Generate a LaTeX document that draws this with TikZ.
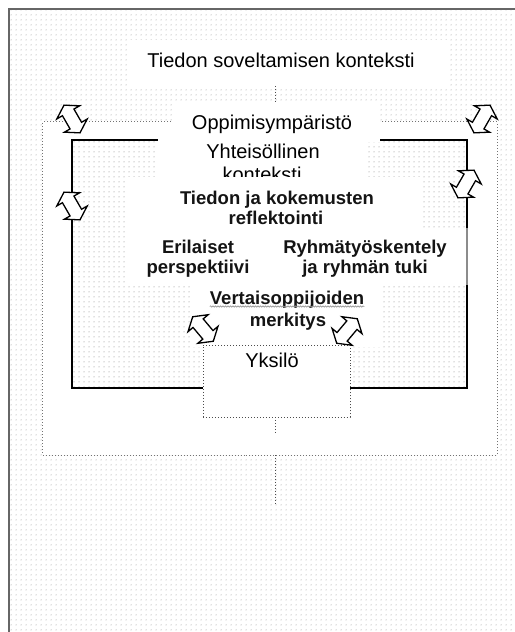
\documentclass[tikz,border=0pt]{standalone}
\usepackage{fontspec}
\setmainfont{Liberation Sans}
\usetikzlibrary{patterns,shapes.arrows,decorations.pathmorphing}
\pgfdeclarepatternformonly{bgdots}{\pgfpointorigin}{\pgfqpoint{4.5bp}{4.5bp}}{\pgfqpoint{4.5bp}{4.5bp}}{%
  \pgfpathcircle{\pgfqpoint{2.25bp}{2.25bp}}{0.55bp}\pgfusepath{fill}}
\begin{document}
\begin{tikzpicture}[x=1bp,y=-1bp,
  dotfill/.style={pattern=bgdots, pattern color=black!50},
  whitebox/.style={rectangle, fill=white, draw=none, inner sep=0pt, outer sep=0pt},
  regtxt/.style={inner sep=0pt, anchor=base, text=black, font=\fontsize{20bp}{24bp}\selectfont},
  boldtxt/.style={inner sep=0pt, anchor=base, text=black!92, font=\fontsize{18.5bp}{22bp}\selectfont\bfseries},
  dblarrow/.style={double arrow, draw=black, fill=white, line width=1.3bp,
    inner xsep=0pt, inner ysep=6bp, minimum height=32bp,
    double arrow head extend=6.5bp, double arrow tip angle=115},
  conn/.style={black!70, line width=1bp, dotted},
]
\useasboundingbox (0,0) rectangle (515,632);
% background
\fill[white] (0,0) rectangle (515,632);
\fill[dotfill] (9,9) rectangle (516,633);
\draw[black!60, line width=2bp] (9,632) -- (9,9) -- (515,9);

% title box
\node[whitebox, minimum width=320bp, minimum height=46bp] (title) at (290,63) {};
% learning environment box
\node[whitebox, draw=black!55, dotted, line width=1bp, minimum width=454bp, minimum height=333bp] (env) at (270,288.5) {};
% community context box
\node[rectangle, inner sep=0pt, outer sep=0pt, preaction={fill=white}, dotfill, draw=black, line width=2bp,
  minimum width=395bp, minimum height=248bp] (comm) at (269.5,264) {};
% label boxes
\node[whitebox, minimum width=207bp, minimum height=38bp] (envlab) at (276.5,123) {};
\node[whitebox, minimum width=207bp, minimum height=39bp] (commlab) at (261.5,157.5) {};
\node[regtxt] (tenv) at (272,130) {Oppimisympäristö};
\node[regtxt] (tcomm1) at (263,159) {Yhteisöllinen};
\node[regtxt] (tcomm2) at (262,182) {konteksti};
% inner white boxes
\node[whitebox, minimum width=294bp, minimum height=51bp] (refl) at (275,202.5) {};
\node[whitebox, minimum width=140bp, minimum height=57bp] (pers) at (198,256.5) {};
\node[whitebox, minimum width=200bp, minimum height=57bp] (group) at (368,256.5) {};
\draw[black!45, line width=1.5bp] (group.north east) ++(-1,0) -- ++(0,57);
\node[whitebox, minimum width=191bp, minimum height=62bp] (peer) at (287.5,316) {};
\node[whitebox, draw=black!70, dotted, line width=1bp, minimum width=147bp, minimum height=72bp] (ind) at (276.5,381) {};

% texts
\node[regtxt] (ttitle) at (281,68) {Tiedon soveltamisen konteksti};
\node[boldtxt] (trefl1) at (277,204) {Tiedon ja kokemusten};
\node[boldtxt] (trefl2) at (276,224) {reflektointi};
\node[boldtxt] (tpers1) at (198,253) {Erilaiset};
\node[boldtxt] (tpers2) at (198,273) {perspektiivi};
\node[boldtxt] (tgroup1) at (365,253) {Ryhmätyöskentely};
\node[boldtxt] (tgroup2) at (365,273) {ja ryhmän tuki};
\node[boldtxt] (tpeer1) at (287,304) {Vertaisoppijoiden};
\node[boldtxt] (tpeer2) at (288,326) {merkitys};
\draw[black!40, line width=0.6bp, decorate, decoration={snake, amplitude=0.7bp, segment length=2.5bp}]
  ([yshift=-2.5bp]tpeer1.base west) -- ([yshift=-2.5bp]tpeer1.base east);
\node[regtxt] (tind) at (272,367) {Yksilö};

% arrows
\node[dblarrow, rotate=-60] (a1) at (72,119) {};
\node[dblarrow, rotate=60] (a2) at (482,119) {};
\node[dblarrow, rotate=60] (a3) at (466,184) {};
\node[dblarrow, rotate=-60] (a4) at (72,206) {};
\node[dblarrow, rotate=-50] (a5) at (203,329) {};
\node[dblarrow, rotate=50] (a6) at (347,331) {};

% connectors
\coordinate (c1) at (275,102);
\coordinate (c2) at (275,434);
\coordinate (c3) at (275,505);
\draw[conn] (c1 |- title.south) -- (c1);
\draw[conn] (c2 |- ind.south) -- (c2);
\draw[conn] (c3 |- env.south) -- (c3);
\end{tikzpicture}
\end{document}
